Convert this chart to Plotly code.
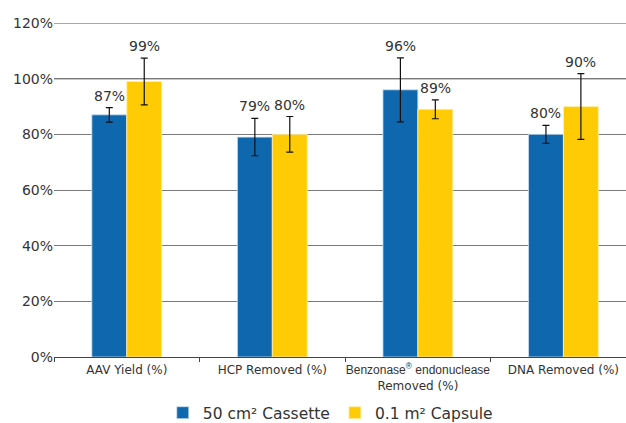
import plotly.graph_objects as go

categories = ["AAV Yield (%)", "HCP Removed (%)",
              "<span style=\"font-family:'Liberation Sans', Arial;font-size:12px\">Benzonase<sup>®</sup> endonuclease</span><br>Removed (%)",
              "DNA Removed (%)"]
cassette_vals = [87, 79, 96, 80]
capsule_vals = [99, 80, 89, 90]
cassette_err = [2.6, 6.7, 11.5, 3.2]
capsule_err = [8.4, 6.4, 3.4, 11.8]
cassette_labels = ["87%", "79%", "96%", "80%"]
capsule_labels = ["99%", "80%", "89%", "90%"]
y_ticks = [0, 20, 40, 60, 80, 100, 120]
y_tick_text = ["0%", "20%", "40%", "60%", "80%", "100%", "120%"]

BLUE = "#0f67ae"
YELLOW = "#ffcb05"
TXT = "#333333"
FONT = "DejaVu Sans, Verdana, sans-serif"

fig = go.Figure()
fig.add_trace(go.Bar(
    x=categories, y=cassette_vals, name="50 cm² Cassette",
    marker=dict(color=BLUE, line=dict(color="#cfe0f0", width=0.8)),
    error_y=dict(type="data", array=cassette_err, color="#111111", thickness=1.2, width=3.5),
))
fig.add_trace(go.Bar(
    x=categories, y=capsule_vals, name="0.1 m² Capsule",
    marker=dict(color=YELLOW, line=dict(color="#fff0b0", width=0.8)),
    error_y=dict(type="data", array=capsule_err, color="#111111", thickness=1.2, width=3.5),
))

for cat, v, e, lab in zip(categories, cassette_vals, cassette_err, cassette_labels):
    fig.add_annotation(x=cat, y=v + e, text=lab, showarrow=False, xshift=-17.5,
                       yanchor="bottom", yshift=2, font=dict(size=14, color=TXT, family=FONT))
for cat, v, e, lab in zip(categories, capsule_vals, capsule_err, capsule_labels):
    fig.add_annotation(x=cat, y=v + e, text=lab, showarrow=False, xshift=17.5,
                       yanchor="bottom", yshift=2, font=dict(size=14, color=TXT, family=FONT))

fig.add_shape(type="line", xref="paper", x0=0, x1=1, yref="y", y0=100, y1=100,
              line=dict(color="#222222", width=1.2), layer="below")
fig.add_shape(type="line", xref="paper", x0=0, x1=1, yref="y", y0=120, y1=120,
              line=dict(color="#555555", width=1.2), layer="below")

fig.update_layout(
    width=626, height=423,
    margin=dict(l=54, r=0, t=23, b=66, autoexpand=False),
    paper_bgcolor="white", plot_bgcolor="white",
    barmode="group", bargap=0.52, bargroupgap=0,
    font=dict(family=FONT, color=TXT),
    showlegend=True,
    legend=dict(orientation="h", x=0.483, xanchor="center", y=-0.168, yanchor="middle",
                font=dict(size=15.5, color=TXT, family=FONT), itemwidth=30,
                traceorder="normal"),
    xaxis=dict(range=[-0.5, 3.43], tickson="boundaries", ticks="outside", ticklen=4,
               tickcolor="#444444", showline=False, showgrid=False, tickangle=0,
               automargin=False, ticklabelstandoff=4,
               tickfont=dict(size=12, color=TXT, family=FONT)),
    yaxis=dict(range=[0, 120], tickmode="array", tickvals=y_ticks, ticktext=y_tick_text,
               showgrid=True, automargin=False,
               gridcolor="#7a7a7a", gridwidth=1.2, zeroline=True, zerolinecolor="#444444",
               zerolinewidth=1.2, showline=False, ticks="",
               tickfont=dict(size=14, color=TXT, family=FONT)),
)

fig.write_html("out.html", config={"displayModeBar": False},
               post_script="document.body.style.margin='0';")
